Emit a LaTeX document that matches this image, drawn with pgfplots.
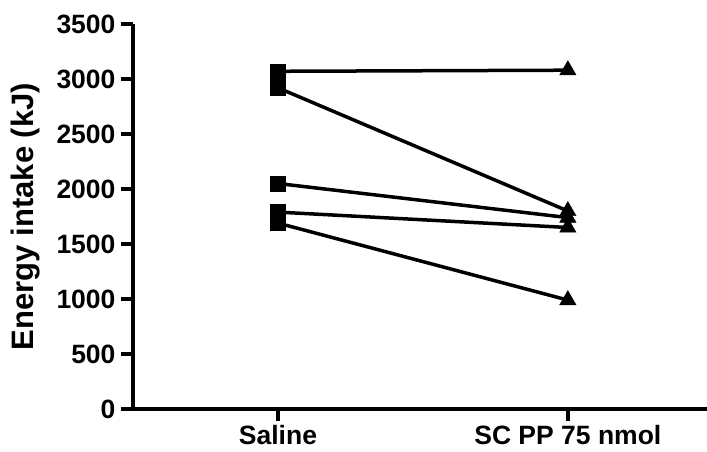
\documentclass[border=0pt]{standalone}
\usepackage{pgfplots}
\pgfplotsset{compat=1.18}
\usepackage{fontspec}
\setmainfont{Liberation Sans}
\begin{document}
\begin{tikzpicture}
\begin{axis}[
 scale only axis, width=574pt, height=385pt,
 xmin=-0.5, xmax=1.48, ymin=0, ymax=3500,
 axis x line=bottom, axis y line=left,
 axis line style={-, line width=4.5pt},
 xtick={0,1}, xticklabels={Saline, SC PP 75 nmol},
 ytick={0,500,...,3500},
 tick style={line width=3.5pt, black},
 major tick length=12pt,
 tick align=outside,
 /pgf/number format/assume math mode=true,
 /pgf/number format/set thousands separator={},
 ticklabel style={font=\fontsize{26.5}{28}\selectfont\bfseries},
 yticklabel style={xshift=-2pt},
 xticklabel style={yshift=-1pt},
 ylabel={Energy intake (kJ)},
 ylabel style={font=\fontsize{31}{33}\selectfont\bfseries},
 ylabel shift=10pt,
 clip=false,
]
\addplot[line width=3.5pt, no marks] coordinates {(0,3070) (1,3080)};
\addplot[line width=3.5pt, no marks] coordinates {(0,2920) (1,1800)};
\addplot[line width=3.5pt, no marks] coordinates {(0,2050) (1,1740)};
\addplot[line width=3.5pt, no marks] coordinates {(0,1790) (1,1650)};
\addplot[line width=3.5pt, no marks] coordinates {(0,1690) (1,990)};
\addplot[only marks, mark=square*, mark size=7.5pt, black] coordinates {(0,3070) (0,2920) (0,2050) (0,1790) (0,1690)};
\addplot[only marks, mark=triangle*, mark size=9.5pt, black] coordinates {(1,3080) (1,1800) (1,1740) (1,1650) (1,990)};
\end{axis}
\pgfresetboundingbox
\path ([shift={(-133pt,-43pt)}]current axis.south west) rectangle ([shift={(0pt,24pt)}]current axis.north east);
\end{tikzpicture}
\end{document}
